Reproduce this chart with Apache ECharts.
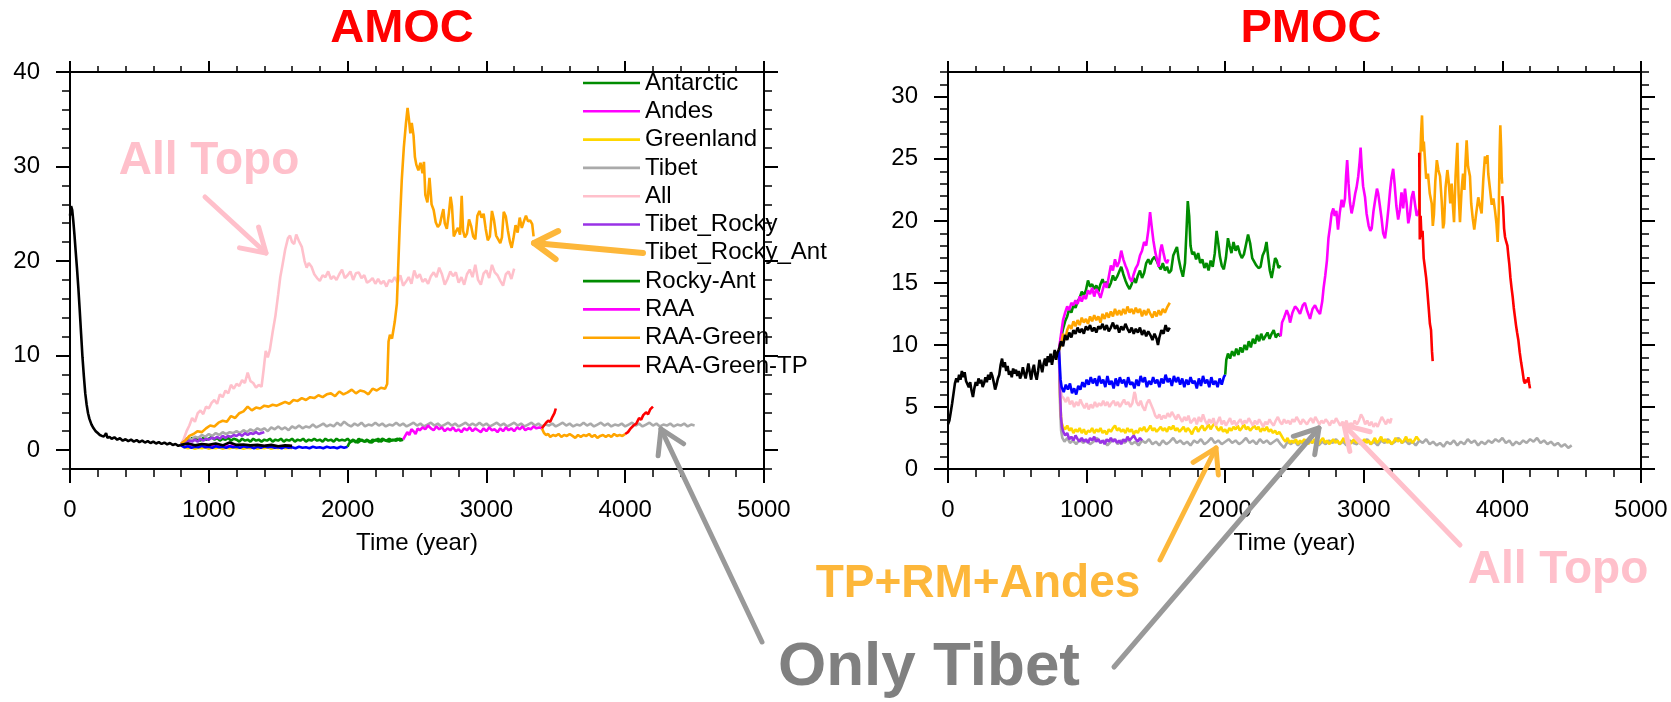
<!DOCTYPE html>
<html>
<head>
<meta charset="utf-8">
<script src="https://cdn.jsdelivr.net/npm/echarts@6.0.0/dist/echarts.min.js"></script>
<style>
  html, body { margin: 0; padding: 0; background: #fff; }
  #main { width: 1671px; height: 702px; }
</style>
</head>
<body>
<div id="main"></div>
<script>
var FONT = '"Liberation Sans", Arial, Helvetica, sans-serif';

// tick labels
var xTicks = [0, 1000, 2000, 3000, 4000, 5000];
var amocTicks = [0, 10, 20, 30, 40];
var pmocTicks = [0, 5, 10, 15, 20, 25, 30];

var legendNames = ['Antarctic', 'Andes', 'Greenland', 'Tibet', 'All', 'Tibet_Rocky',
    'Tibet_Rocky_Ant', 'Rocky-Ant', 'RAA', 'RAA-Green', 'RAA-Green-TP'];

// ---------- AMOC (Sv) ----------
var amocCtrl = [[0,24.8],[8,25.8],[16,25.4],[24,24.2],[32,22.8],[40,21.2],[50,19.3],[60,17.2],[70,14.8],[80,12.3],[90,9.8],[100,7.8],[110,6.0],[120,4.8],[130,3.9],[140,3.3],[155,2.7],[170,2.3],[185,2.0],[200,1.8],[215,1.6],[230,1.5],[245,1.45],[260,1.8],[270,1.3],[285,1.4],[300,1.2],[320,1.35],[340,1.1],[360,1.25],[380,1.0],[400,1.15],[420,0.95],[440,1.1],[460,0.9],[480,1.05],[500,0.85],[520,1.0],[540,0.8],[560,0.95],[580,0.75],[600,0.9],[620,0.7],[640,0.85],[660,0.65],[680,0.8],[700,0.6],[720,0.75],[740,0.55],[760,0.65],[780,0.45],[800,0.55]];
var amocCtrl2 = [[800,0.55],[850,0.7],[900,0.5],[950,0.65],[1000,0.55],[1050,0.7],[1100,0.5],[1150,0.8],[1200,0.55],[1250,0.6],[1300,0.5],[1350,0.55],[1400,0.45],[1450,0.55],[1500,0.4],[1550,0.5],[1600,0.45]];
var amocAll = [[800,0.6],[820,1.2],[840,2.0],[860,2.6],[880,3.4],[900,3.0],[920,3.9],[940,4.2],[960,3.8],[980,4.6],[1000,4.4],[1020,5.0],[1040,5.3],[1060,4.9],[1080,5.9],[1100,5.6],[1120,6.3],[1140,6.0],[1160,6.9],[1180,6.5],[1200,7.0],[1220,6.8],[1240,7.4],[1260,7.1],[1280,8.2],[1300,7.3],[1320,7.1],[1340,6.6],[1360,6.9],[1380,6.7],[1395,8.5],[1410,10.5],[1425,9.8],[1440,10.6],[1460,12.5],[1480,14.2],[1500,16.5],[1515,18.3],[1530,19.5],[1550,21.2],[1570,22.4],[1585,22.7],[1600,22.0],[1615,21.8],[1630,22.8],[1650,22.1],[1670,21.5],[1690,20.0],[1705,19.3],[1720,19.8],[1740,19.4],[1760,18.6],[1780,18.2],[1800,17.9],[1820,18.5],[1840,18.3],[1860,18.9],[1880,18.1],[1900,18.4],[1920,18.0],[1940,18.6],[1960,19.1],[1980,18.2],[2000,18.5],[2020,18.9],[2040,18.0],[2060,18.7],[2080,18.8],[2100,18.2],[2120,18.5],[2140,17.7],[2160,17.9],[2180,18.2],[2200,17.6],[2220,18.1],[2240,17.6],[2260,17.9],[2280,17.3],[2300,18.0],[2320,17.8],[2340,18.3],[2360,17.7],[2380,18.5],[2400,17.4],[2420,17.8],[2440,18.3],[2460,17.6],[2480,19.0],[2500,18.2],[2520,18.6],[2540,17.8],[2560,18.1],[2580,17.6],[2600,18.4],[2620,18.8],[2640,18.3],[2660,19.3],[2680,18.6],[2700,17.5],[2720,18.1],[2740,18.9],[2760,18.4],[2780,18.8],[2800,17.7],[2820,18.3],[2840,17.5],[2860,18.6],[2880,19.1],[2900,18.3],[2920,19.6],[2940,18.0],[2960,17.5],[2980,18.7],[3000,19.0],[3020,18.2],[3040,19.6],[3060,18.8],[3080,18.5],[3100,17.9],[3120,17.4],[3140,18.6],[3160,18.9],[3180,18.1],[3200,19.2]];
var amocTpRmAndes = [[800,0.7],[830,1.0],[860,1.5],[890,1.7],[920,2.0],[950,1.9],[980,2.3],[1010,2.6],[1040,2.5],[1070,2.9],[1100,3.1],[1130,3.0],[1160,3.6],[1190,3.4],[1220,3.9],[1250,4.1],[1280,4.6],[1310,4.2],[1340,4.5],[1370,4.4],[1400,4.7],[1430,4.6],[1460,4.8],[1490,4.7],[1520,4.9],[1550,5.1],[1580,4.9],[1610,5.3],[1640,5.2],[1670,5.5],[1700,5.3],[1730,5.6],[1760,5.5],[1790,5.8],[1820,5.6],[1850,5.9],[1880,6.0],[1910,5.7],[1940,6.2],[1970,5.9],[2000,6.1],[2030,6.4],[2060,6.0],[2090,6.3],[2120,6.2],[2150,5.9],[2180,6.5],[2210,6.3],[2240,6.6],[2270,6.5],[2285,7.0],[2295,11.5],[2305,12.2],[2320,11.8],[2340,13.6],[2355,15.5],[2365,19.5],[2375,23.5],[2390,28.5],[2405,32.0],[2420,34.5],[2432,36.2],[2442,35.0],[2452,33.5],[2462,34.6],[2475,33.3],[2485,31.0],[2495,30.2],[2510,29.6],[2525,30.4],[2540,29.3],[2550,30.5],[2560,27.0],[2575,26.2],[2590,28.8],[2605,26.0],[2620,25.4],[2635,24.1],[2650,23.6],[2665,23.9],[2680,24.9],[2690,25.5],[2700,24.0],[2715,23.4],[2730,25.1],[2742,26.8],[2752,25.8],[2765,22.6],[2780,23.1],[2795,23.5],[2810,22.8],[2822,26.9],[2832,23.2],[2845,22.5],[2860,22.9],[2875,24.4],[2890,23.7],[2905,22.6],[2920,22.3],[2935,24.8],[2950,25.3],[2965,24.6],[2980,25.0],[2995,23.4],[3010,22.2],[3025,22.6],[3040,25.3],[3055,24.3],[3070,22.7],[3085,22.3],[3100,21.9],[3112,22.5],[3125,25.2],[3140,24.7],[3155,23.2],[3170,22.0],[3182,21.4],[3195,22.4],[3210,23.8],[3225,23.0],[3240,24.6],[3255,23.5],[3270,24.2],[3285,24.8],[3300,24.2],[3315,24.3],[3330,23.9],[3340,22.6]];
var amocTibet = [[800,0.6],[825,1.1],[850,1.3],[875,1.1],[900,1.4],[925,1.3],[950,1.6],[975,1.4],[1000,1.7],[1025,1.5],[1050,1.8],[1075,1.6],[1100,1.9],[1125,1.7],[1150,1.9],[1175,1.8],[1200,2.0],[1225,1.8],[1250,2.1],[1275,1.9],[1300,2.2],[1325,2.0],[1350,2.3],[1375,2.1],[1400,2.3],[1425,2.0],[1450,2.4],[1475,2.2],[1500,2.5],[1525,2.2],[1550,2.4],[1575,2.1],[1600,2.5],[1625,2.3],[1650,2.6],[1675,2.3],[1700,2.5],[1725,2.4],[1750,2.7],[1775,2.4],[1800,2.6],[1825,2.8],[1850,2.5],[1875,2.7],[1900,2.5],[1925,2.9],[1950,2.6],[1975,3.0],[2000,2.7],[2025,2.5],[2050,2.8],[2075,2.6],[2100,2.9],[2125,2.5],[2150,2.7],[2175,2.6],[2200,2.9],[2225,2.6],[2250,2.8],[2275,2.5],[2300,2.7],[2325,2.6],[2350,2.9],[2375,2.6],[2400,2.8],[2425,2.5],[2450,2.7],[2475,2.9],[2500,2.6],[2525,2.8],[2550,2.5],[2575,2.7],[2600,2.9],[2625,2.6],[2650,2.8],[2675,2.5],[2700,2.7],[2725,2.9],[2750,2.6],[2775,2.8],[2800,2.5],[2825,2.7],[2850,2.9],[2875,2.6],[2900,2.8],[2925,2.6],[2950,2.9],[2975,2.6],[3000,2.8],[3025,2.5],[3050,2.7],[3075,2.9],[3100,2.6],[3125,2.8],[3150,2.5],[3175,2.7],[3200,2.9],[3225,2.6],[3250,2.8],[3275,2.5],[3300,2.7],[3325,2.9],[3350,2.6],[3375,2.8],[3400,2.5],[3425,2.7],[3450,2.6],[3475,2.8],[3500,2.5],[3525,2.7],[3550,2.9],[3575,2.6],[3600,2.8],[3625,2.5],[3650,2.7],[3675,2.6],[3700,2.9],[3725,2.6],[3750,2.8],[3775,2.5],[3800,2.7],[3825,2.9],[3850,2.6],[3875,2.8],[3900,2.5],[3925,2.7],[3950,2.6],[3975,2.8],[4000,2.5],[4025,2.7],[4050,2.9],[4075,2.6],[4100,2.8],[4125,2.5],[4150,2.7],[4175,2.9],[4200,2.6],[4225,2.8],[4250,2.5],[4275,2.7],[4300,2.6],[4325,2.8],[4350,2.5],[4375,2.7],[4400,2.6],[4425,2.8],[4450,2.5],[4475,2.7],[4500,2.6]];
var amocAntarctic = [[800,0.6],[820,1.0],[840,1.2],[860,1.0],[880,1.3],[900,1.1],[920,1.2],[940,1.0],[960,1.3],[980,1.1],[1000,1.2],[1020,1.4],[1040,1.1],[1060,1.3],[1080,1.0],[1100,1.2],[1120,1.1],[1140,1.3],[1160,1.0],[1180,1.2],[1200,1.1],[1220,0.9],[1240,1.2],[1260,1.0],[1280,1.1],[1300,0.9],[1320,1.2],[1340,1.0],[1360,1.1],[1380,0.9],[1400,1.1],[1420,1.0],[1440,1.2],[1460,0.9],[1480,1.1],[1500,1.0],[1520,1.2],[1540,0.9],[1560,1.1],[1580,1.0],[1600,1.2],[1620,0.9],[1640,1.1],[1660,1.0],[1680,1.2],[1700,0.9],[1720,1.1],[1740,1.0],[1760,1.2],[1780,1.0],[1800,1.1],[1820,0.9],[1840,1.2],[1860,1.0],[1880,1.1],[1900,0.9],[1920,1.2],[1940,1.0],[1960,1.1],[1980,1.0],[2000,1.2],[2020,0.9],[2040,1.1],[2060,0.8],[2080,1.2],[2100,1.0],[2120,0.9],[2140,1.1],[2160,0.8],[2180,1.1],[2200,1.0],[2220,1.2],[2240,0.9],[2260,1.1],[2280,1.0],[2300,1.2],[2320,1.0],[2340,1.1],[2360,1.2],[2380,1.0],[2400,1.1]];
var amocTibetRocky = [[800,0.6],[820,0.9],[840,0.8],[860,1.0],[880,0.9],[900,1.1],[920,0.9],[940,1.2],[960,1.0],[980,1.2],[1000,1.1],[1020,1.3],[1040,1.2],[1060,1.4],[1080,1.2],[1100,1.5],[1120,1.3],[1140,1.5],[1160,1.4],[1180,1.6],[1200,1.5],[1220,1.7],[1240,1.5],[1260,1.8],[1280,1.6],[1300,1.8],[1320,1.7],[1340,1.9],[1360,1.7],[1380,1.8],[1400,1.9]];
var amocTibetRockyAnt = [[800,0.5],[825,0.3],[850,0.4],[875,0.25],[900,0.35],[925,0.3],[950,0.45],[975,0.3],[1000,0.35],[1025,0.25],[1050,0.4],[1075,0.3],[1100,0.35],[1125,0.25],[1150,0.4],[1175,0.3],[1200,0.35],[1225,0.25],[1250,0.4],[1275,0.3],[1300,0.35],[1325,0.2],[1350,0.35],[1375,0.25],[1400,0.4],[1425,0.3],[1450,0.35],[1475,0.25],[1500,0.3],[1525,0.2],[1550,0.35],[1575,0.25],[1600,0.3],[1625,0.2],[1650,0.35],[1675,0.25],[1700,0.3],[1725,0.2],[1750,0.35],[1775,0.25],[1800,0.3],[1825,0.2],[1850,0.35],[1875,0.25],[1900,0.3],[1925,0.2],[1950,0.35],[1975,0.25],[2000,0.35]];
var amocAndes = [[800,0.5],[825,0.7],[850,0.5],[875,0.6],[900,0.4],[925,0.55],[950,0.45],[975,0.6],[1000,0.4],[1025,0.55],[1050,0.45],[1075,0.5],[1100,0.35],[1125,0.5],[1150,0.4],[1175,0.55],[1200,0.45],[1225,0.5],[1250,0.35],[1275,0.45],[1300,0.4],[1325,0.5],[1350,0.35],[1375,0.45],[1400,0.4],[1425,0.5],[1450,0.35],[1475,0.45],[1500,0.3],[1525,0.4],[1550,0.35],[1575,0.45],[1600,0.35]];
var amocGreenland = [[800,0.5],[825,0.3],[850,0.2],[875,0.3],[900,0.15],[925,0.25],[950,0.2],[975,0.3],[1000,0.15],[1025,0.25],[1050,0.2],[1075,0.3],[1100,0.15],[1125,0.25],[1150,0.2],[1175,0.3],[1200,0.2],[1225,0.25],[1250,0.15],[1275,0.25],[1300,0.2],[1325,0.3],[1350,0.15],[1375,0.25],[1400,0.2],[1425,0.3],[1450,0.15],[1475,0.25],[1500,0.2],[1525,0.3],[1550,0.2],[1575,0.25],[1600,0.2]];
var amocRockyAnt = [[2000,0.35],[2010,0.7],[2025,0.9],[2050,1.0],[2075,0.8],[2100,1.1],[2125,0.9],[2150,1.0],[2175,0.8],[2200,1.1],[2225,0.9],[2250,1.2],[2275,1.0],[2300,0.9],[2325,1.1],[2350,1.0],[2375,1.2],[2400,1.1]];
var amocRAA = [[2400,1.1],[2415,1.5],[2430,1.9],[2445,1.6],[2460,2.2],[2475,2.0],[2490,1.7],[2505,2.3],[2520,2.1],[2540,2.4],[2560,2.2],[2580,2.6],[2600,2.3],[2620,2.1],[2640,2.5],[2660,2.2],[2680,2.4],[2700,2.0],[2720,2.3],[2740,2.1],[2760,2.4],[2780,2.0],[2800,2.2],[2820,1.9],[2840,2.3],[2860,2.1],[2880,2.4],[2900,2.0],[2920,2.3],[2940,2.1],[2960,1.9],[2980,2.3],[3000,2.0],[3020,2.4],[3040,2.1],[3060,2.2],[3080,1.9],[3100,2.3],[3120,2.0],[3140,2.4],[3160,2.1],[3180,2.3],[3200,2.0],[3220,2.4],[3240,2.2],[3260,2.5],[3280,2.1],[3300,2.3],[3320,2.2],[3340,2.5],[3360,2.3],[3380,2.4],[3400,2.3]];
var amocRAAGreen = [[3400,2.3],[3415,1.8],[3430,1.6],[3445,1.7],[3460,1.4],[3480,1.6],[3500,1.5],[3520,1.7],[3540,1.4],[3560,1.6],[3580,1.5],[3600,1.7],[3620,1.5],[3640,1.3],[3660,1.6],[3680,1.4],[3700,1.6],[3720,1.5],[3740,1.7],[3760,1.4],[3780,1.6],[3800,1.3],[3820,1.5],[3840,1.6],[3860,1.4],[3880,1.6],[3900,1.4],[3920,1.7],[3940,1.5],[3960,1.6],[3980,1.5],[4000,1.7]];
var amocRAAGreenTP1 = [[3400,2.3],[3415,2.6],[3430,2.9],[3445,3.1],[3460,3.0],[3475,3.5],[3490,3.9],[3500,4.4]];
var amocRAAGreenTP2 = [[4000,1.7],[4020,1.9],[4040,2.3],[4060,2.6],[4080,2.8],[4100,3.4],[4115,3.2],[4130,3.7],[4150,4.0],[4165,3.8],[4180,4.3],[4200,4.6]];

// ---------- PMOC (Sv) ----------
var pmocCtrl = [[0,3.6],[10,3.9],[20,4.6],[30,5.3],[40,6.1],[50,6.9],[60,7.3],[70,7.0],[80,7.6],[90,7.2],[100,7.9],[110,7.4],[120,7.8],[130,7.1],[140,7.0],[150,6.6],[160,7.0],[170,6.3],[180,5.8],[190,6.5],[200,7.0],[210,6.7],[220,7.3],[230,6.9],[240,7.2],[250,6.6],[260,6.9],[270,7.4],[280,7.0],[290,7.6],[300,7.2],[310,7.8],[320,7.5],[330,7.0],[340,6.4],[350,6.8],[360,7.3],[370,7.6],[380,8.4],[390,8.9],[400,8.2],[410,8.6],[420,7.9],[430,8.3],[440,7.6],[450,7.9],[460,7.4],[470,8.1],[480,7.7],[490,8.0],[500,7.5],[510,7.9],[520,7.3],[530,7.6],[540,8.2],[550,7.7],[560,7.3],[570,7.9],[580,8.5],[590,7.8],[600,7.2],[610,8.0],[620,8.4],[630,7.6],[640,7.2],[650,7.9],[660,8.8],[670,8.3],[680,7.8],[690,8.5],[700,8.9],[710,8.3],[720,9.1],[730,8.6],[740,9.3],[750,8.4],[760,9.0],[770,9.6],[780,8.8],[790,9.4],[800,9.6]];
var pmocCtrl2 = [[800,9.6],[815,10.3],[830,9.9],[845,10.8],[860,10.4],[875,11.0],[890,10.6],[905,11.2],[920,10.9],[935,11.4],[950,11.0],[965,11.3],[980,10.9],[995,11.5],[1010,11.2],[1025,11.6],[1040,11.1],[1055,11.4],[1070,11.0],[1085,11.5],[1100,11.3],[1115,11.7],[1130,11.2],[1145,11.6],[1160,11.1],[1175,11.4],[1190,11.8],[1205,11.3],[1220,11.6],[1235,11.0],[1250,11.5],[1265,11.2],[1280,11.7],[1295,11.3],[1310,11.0],[1325,11.4],[1340,10.9],[1355,11.3],[1370,11.0],[1385,11.4],[1400,10.8],[1415,11.2],[1430,10.7],[1445,11.1],[1460,10.8],[1475,10.4],[1490,10.9],[1505,10.5],[1515,10.0],[1525,10.6],[1540,11.2],[1555,10.9],[1570,11.6],[1585,11.1],[1600,11.4]];
var pmocTpRmAndes = [[800,9.6],[815,10.0],[830,10.9],[845,10.4],[860,11.2],[875,11.6],[890,11.3],[905,11.9],[920,11.5],[935,12.0],[950,11.6],[965,12.2],[980,11.8],[995,12.1],[1010,11.7],[1025,12.3],[1040,11.9],[1055,12.4],[1070,12.0],[1085,12.3],[1100,11.8],[1115,12.5],[1130,12.1],[1145,12.6],[1160,12.2],[1175,12.7],[1190,12.3],[1205,12.9],[1220,12.4],[1235,12.8],[1250,12.4],[1265,12.9],[1280,12.5],[1295,13.1],[1310,12.6],[1325,12.9],[1340,12.5],[1355,13.0],[1370,12.6],[1385,12.9],[1400,12.3],[1415,12.8],[1430,12.4],[1445,12.9],[1460,12.5],[1475,12.2],[1490,12.7],[1505,12.3],[1520,12.8],[1535,12.4],[1550,12.9],[1565,12.6],[1580,13.0],[1600,13.4]];
var pmocAndes = [[800,9.6],[815,10.8],[830,12.0],[845,12.6],[860,13.1],[875,12.8],[890,13.4],[905,13.2],[920,13.6],[935,13.3],[950,13.9],[965,13.5],[980,14.0],[995,13.7],[1010,14.4],[1025,14.1],[1040,14.6],[1055,13.9],[1070,14.5],[1085,14.2],[1100,13.8],[1115,14.4],[1130,15.0],[1145,14.6],[1160,15.5],[1175,16.4],[1190,16.0],[1205,16.9],[1220,16.3],[1235,16.7],[1250,17.6],[1265,16.9],[1280,16.4],[1295,16.0],[1310,15.4],[1325,15.1],[1340,15.7],[1355,16.2],[1370,16.5],[1385,17.2],[1400,17.6],[1415,18.3],[1430,18.0],[1445,19.2],[1458,20.7],[1470,19.5],[1482,18.4],[1495,17.5],[1508,16.9],[1520,16.3],[1532,17.6],[1542,18.1],[1555,17.4],[1567,16.8],[1580,16.6],[1590,16.9]];
var pmocAntarctic = [[800,9.6],[815,10.5],[830,11.3],[845,11.9],[860,12.3],[875,12.9],[890,12.6],[905,13.2],[920,13.0],[935,13.5],[950,13.8],[965,14.3],[980,14.0],[995,14.4],[1010,15.2],[1025,14.7],[1040,14.9],[1055,14.5],[1070,14.8],[1085,14.3],[1100,14.9],[1115,15.3],[1130,14.8],[1145,15.1],[1160,14.6],[1175,15.0],[1190,15.6],[1205,15.2],[1220,15.5],[1235,15.9],[1250,16.3],[1265,15.7],[1280,15.2],[1295,14.8],[1310,14.5],[1325,14.9],[1340,15.4],[1355,15.0],[1370,15.6],[1385,16.0],[1400,15.4],[1415,15.8],[1430,16.6],[1445,16.9],[1460,16.5],[1475,16.9],[1490,17.1],[1505,16.8],[1520,16.4],[1535,16.1],[1550,16.6],[1565,16.0],[1580,16.3],[1595,15.8],[1610,16.0],[1625,17.2],[1640,17.6],[1652,17.9],[1665,16.9],[1680,16.1],[1695,15.5],[1710,16.6],[1720,19.0],[1730,21.6],[1740,20.4],[1750,18.0],[1762,17.3],[1775,17.5],[1790,16.9],[1805,17.4],[1820,16.6],[1835,16.9],[1850,16.2],[1865,16.6],[1880,16.0],[1895,16.8],[1910,16.3],[1925,17.4],[1938,19.2],[1950,18.2],[1962,17.1],[1975,16.4],[1990,16.1],[2005,17.0],[2020,18.6],[2032,18.0],[2045,17.4],[2060,18.3],[2075,17.6],[2090,18.0],[2105,17.4],[2120,17.0],[2135,17.3],[2150,18.1],[2165,18.9],[2180,18.2],[2195,17.0],[2210,16.7],[2225,16.4],[2240,16.2],[2255,16.3],[2270,17.2],[2285,17.6],[2298,18.3],[2310,17.1],[2322,16.0],[2335,15.4],[2348,16.2],[2360,17.0],[2372,16.8],[2385,16.2],[2400,16.4]];
var pmocTibetRockyAnt = [[800,9.6],[806,8.5],[812,7.2],[820,6.6],[835,6.2],[850,6.8],[865,6.4],[880,6.9],[895,6.1],[910,6.5],[925,6.0],[940,6.7],[955,6.4],[970,7.0],[985,6.6],[1000,7.2],[1015,6.8],[1030,7.4],[1045,6.9],[1060,7.3],[1075,6.7],[1090,7.5],[1105,6.9],[1120,7.2],[1135,6.6],[1150,7.5],[1165,6.8],[1180,7.1],[1195,6.5],[1210,7.3],[1225,6.7],[1240,7.4],[1255,6.9],[1270,7.2],[1285,6.6],[1300,7.4],[1315,6.8],[1330,7.0],[1345,6.5],[1360,7.2],[1375,6.7],[1390,7.5],[1405,7.0],[1420,7.4],[1435,6.6],[1450,7.1],[1465,6.8],[1480,7.4],[1495,6.9],[1510,7.2],[1525,6.6],[1540,7.3],[1555,6.9],[1570,7.6],[1585,7.0],[1600,7.3],[1615,6.7],[1630,7.5],[1645,7.0],[1660,7.4],[1675,6.8],[1690,7.3],[1705,6.6],[1720,7.2],[1735,6.8],[1750,7.4],[1765,6.9],[1780,7.1],[1795,6.5],[1810,7.3],[1825,6.7],[1840,7.5],[1855,6.9],[1870,7.2],[1885,6.6],[1900,7.4],[1915,6.8],[1930,7.1],[1945,6.6],[1960,7.3],[1975,6.8],[1990,7.4],[2000,7.6]];
var pmocRockyAnt = [[2000,7.6],[2008,8.8],[2020,9.3],[2035,8.9],[2050,9.5],[2065,9.1],[2080,9.7],[2095,9.2],[2110,9.8],[2125,9.4],[2140,10.0],[2155,9.6],[2170,10.3],[2185,9.8],[2200,10.5],[2215,10.1],[2230,10.8],[2245,10.3],[2260,10.9],[2275,10.4],[2290,10.7],[2305,11.0],[2320,10.5],[2335,10.9],[2350,11.2],[2365,10.6],[2380,10.9],[2400,10.7]];
var pmocRAA = [[2400,10.7],[2410,11.8],[2425,12.2],[2444,12.8],[2458,12.4],[2468,11.8],[2485,12.6],[2504,13.1],[2520,12.9],[2540,12.5],[2560,13.2],[2575,13.4],[2590,12.8],[2612,12.1],[2630,12.9],[2648,13.2],[2665,12.8],[2684,12.5],[2700,13.5],[2710,14.6],[2722,15.6],[2734,16.8],[2745,18.6],[2756,19.5],[2768,20.6],[2780,21.0],[2790,20.4],[2802,20.8],[2814,19.3],[2826,20.6],[2840,21.7],[2852,21.1],[2864,21.8],[2872,23.6],[2880,24.9],[2890,23.0],[2900,21.5],[2912,20.6],[2925,21.3],[2938,22.2],[2948,22.7],[2960,23.6],[2970,24.8],[2977,25.9],[2985,24.3],[2995,22.8],[3009,21.9],[3020,20.6],[3035,19.6],[3047,19.2],[3057,19.4],[3070,20.8],[3085,21.9],[3095,22.6],[3104,22.2],[3115,21.3],[3128,20.2],[3140,19.0],[3153,18.6],[3165,19.6],[3178,21.0],[3190,22.5],[3200,23.5],[3212,24.2],[3222,23.0],[3235,21.2],[3248,20.1],[3260,20.9],[3272,22.3],[3284,21.0],[3297,22.6],[3309,21.4],[3321,19.8],[3333,20.5],[3345,21.9],[3357,22.4],[3370,21.3],[3382,20.4],[3393,20.6],[3400,21.0]];
var pmocRAAGreen = [[3400,21.0],[3406,24.6],[3413,27.0],[3420,28.5],[3428,25.6],[3433,26.4],[3440,25.2],[3450,23.4],[3463,23.8],[3476,22.2],[3490,21.4],[3498,19.6],[3506,20.5],[3516,23.2],[3527,24.9],[3538,24.1],[3550,23.6],[3562,21.6],[3572,19.4],[3579,19.8],[3590,22.7],[3603,24.1],[3612,23.2],[3624,21.4],[3634,23.0],[3643,21.2],[3651,19.9],[3662,23.6],[3675,26.3],[3684,22.2],[3694,19.9],[3705,22.4],[3716,23.8],[3726,22.5],[3734,24.8],[3742,26.5],[3752,24.4],[3766,23.6],[3775,21.4],[3786,20.2],[3797,19.3],[3810,20.5],[3826,21.9],[3838,21.2],[3850,20.6],[3862,23.3],[3874,25.2],[3884,24.6],[3892,25.3],[3898,23.8],[3910,22.6],[3923,21.3],[3935,21.8],[3946,20.9],[3957,19.8],[3966,18.3],[3974,20.8],[3980,25.5],[3985,27.7],[3991,25.8],[3995,23.6],[3999,23.0]];
var pmocRAAGreenTP1 = [[3400,25.5],[3404,18.5],[3410,20.4],[3416,18.7],[3424,19.2],[3432,17.0],[3440,16.3],[3450,15.4],[3458,14.4],[3468,13.0],[3477,11.7],[3485,11.2],[3492,9.5],[3497,8.7]];
var pmocRAAGreenTP2 = [[3999,22.0],[4005,21.2],[4012,19.4],[4019,18.7],[4028,18.3],[4036,18.0],[4043,17.2],[4050,16.5],[4058,15.4],[4066,14.6],[4074,13.9],[4082,13.0],[4090,12.3],[4098,11.6],[4106,11.0],[4115,10.4],[4125,9.4],[4135,8.6],[4145,7.9],[4155,7.1],[4163,6.9],[4172,7.2],[4180,7.0],[4187,7.4],[4193,6.9],[4199,6.5]];
var pmocAll = [[800,9.6],[805,8.2],[812,6.6],[820,5.9],[835,5.7],[850,5.4],[865,5.8],[880,5.2],[895,5.5],[910,5.0],[925,5.4],[940,5.1],[955,5.6],[970,5.2],[985,4.9],[1000,5.3],[1015,4.8],[1030,5.2],[1045,4.9],[1060,5.4],[1075,5.0],[1090,5.3],[1105,5.1],[1120,5.5],[1135,5.1],[1150,5.4],[1165,5.0],[1180,5.3],[1195,5.5],[1210,5.1],[1225,5.4],[1240,5.0],[1255,5.3],[1270,5.6],[1285,5.2],[1300,5.4],[1315,5.0],[1330,5.3],[1345,6.2],[1352,6.0],[1360,5.4],[1375,5.1],[1390,5.5],[1405,5.0],[1420,4.7],[1435,5.3],[1450,5.6],[1465,5.2],[1480,4.8],[1495,4.3],[1510,4.1],[1525,4.4],[1540,4.0],[1555,4.3],[1570,4.1],[1585,4.5],[1600,4.2],[1615,4.6],[1630,4.3],[1645,4.0],[1660,4.4],[1675,4.1],[1690,3.8],[1705,4.2],[1720,3.9],[1735,4.3],[1750,3.7],[1765,3.9],[1780,4.1],[1795,3.6],[1810,4.2],[1825,3.8],[1840,4.4],[1855,3.9],[1870,3.6],[1885,4.0],[1900,3.7],[1915,4.1],[1930,3.5],[1945,3.8],[1960,4.2],[1975,3.6],[1990,3.9],[2005,3.5],[2020,3.8],[2035,4.1],[2050,3.6],[2065,3.9],[2080,3.5],[2095,3.8],[2110,4.0],[2125,3.6],[2140,3.9],[2155,3.7],[2170,4.1],[2185,3.8],[2200,3.5],[2215,3.9],[2230,3.6],[2245,4.0],[2260,3.7],[2275,3.4],[2290,3.8],[2305,3.6],[2320,4.0],[2335,3.7],[2350,3.5],[2365,3.9],[2380,4.2],[2395,3.8],[2410,3.6],[2425,4.0],[2440,3.7],[2455,3.9],[2470,3.6],[2485,4.0],[2500,3.8],[2515,4.2],[2530,3.9],[2545,3.6],[2560,4.0],[2575,3.8],[2590,3.6],[2605,3.9],[2620,4.1],[2635,3.7],[2650,4.2],[2665,3.9],[2680,3.6],[2695,3.9],[2710,3.7],[2725,4.0],[2740,3.8],[2755,3.5],[2770,3.9],[2785,3.7],[2800,4.1],[2815,3.8],[2830,3.5],[2845,3.8],[2860,3.6],[2875,3.9],[2890,3.4],[2905,3.7],[2920,3.5],[2935,3.9],[2950,3.6],[2965,3.9],[2980,4.4],[2995,4.1],[3010,3.6],[3025,3.9],[3040,3.5],[3055,3.8],[3070,3.4],[3085,3.7],[3100,3.4],[3115,3.8],[3130,4.2],[3145,3.9],[3160,3.6],[3175,4.0],[3190,3.7],[3200,4.1]];
var pmocGreenland = [[800,9.6],[805,7.5],[810,5.2],[818,3.8],[830,3.4],[845,3.2],[860,3.5],[875,3.1],[890,3.3],[905,2.9],[920,3.2],[935,3.0],[950,3.3],[965,2.9],[980,3.2],[995,2.8],[1010,3.1],[1025,3.0],[1040,3.3],[1055,2.9],[1070,3.2],[1085,3.0],[1100,3.3],[1115,2.9],[1130,3.1],[1145,2.8],[1160,3.2],[1175,3.0],[1190,3.3],[1205,3.5],[1220,3.1],[1235,3.3],[1250,3.0],[1265,3.2],[1280,2.9],[1295,3.3],[1310,3.0],[1325,3.2],[1340,2.8],[1355,3.1],[1370,2.9],[1385,3.3],[1400,3.1],[1415,3.4],[1430,3.0],[1445,3.2],[1460,3.5],[1475,3.1],[1490,3.3],[1505,3.0],[1520,3.2],[1535,3.4],[1550,3.1],[1565,3.3],[1580,3.0],[1595,3.4],[1610,3.2],[1625,3.5],[1640,3.1],[1655,3.3],[1670,3.0],[1685,3.2],[1700,3.4],[1715,3.0],[1730,3.3],[1745,3.1],[1760,2.8],[1775,3.2],[1790,3.4],[1805,3.0],[1820,3.3],[1835,3.5],[1850,3.1],[1865,3.3],[1880,3.6],[1895,3.2],[1910,3.5],[1925,3.7],[1940,3.3],[1955,3.1],[1970,3.4],[1985,3.0],[2000,3.2],[2015,2.9],[2030,3.3],[2045,3.1],[2060,3.4],[2075,3.2],[2090,3.5],[2105,3.1],[2120,3.3],[2135,3.6],[2150,3.2],[2165,3.4],[2180,3.1],[2195,3.3],[2210,3.5],[2225,3.2],[2240,3.4],[2255,3.0],[2270,3.3],[2285,3.1],[2300,3.4],[2315,3.0],[2330,3.2],[2345,2.9],[2360,3.1],[2375,2.8],[2390,3.0],[2405,2.7],[2420,2.4],[2435,2.2],[2450,2.5],[2465,2.1],[2480,2.3],[2495,2.1],[2510,2.4],[2525,2.0],[2540,2.3],[2555,2.1],[2570,2.4],[2585,2.2],[2600,2.0],[2615,2.3],[2630,2.1],[2645,2.4],[2660,2.2],[2675,2.0],[2690,2.3],[2705,2.5],[2720,2.1],[2735,2.3],[2750,2.0],[2765,2.2],[2780,2.4],[2795,2.1],[2810,2.3],[2825,2.0],[2840,2.2],[2855,2.5],[2870,2.1],[2885,2.3],[2900,2.0],[2915,2.2],[2930,2.4],[2945,2.1],[2960,2.3],[2975,2.0],[2990,2.2],[3005,2.4],[3020,2.1],[3035,2.3],[3050,2.0],[3065,2.2],[3080,2.5],[3095,2.1],[3110,2.3],[3125,2.6],[3140,2.2],[3155,2.4],[3170,2.1],[3185,2.3],[3200,2.0],[3215,2.2],[3230,2.5],[3245,2.2],[3260,2.4],[3275,2.1],[3290,2.3],[3305,2.6],[3320,2.2],[3335,2.4],[3350,2.1],[3365,2.3],[3380,2.6],[3400,2.3]];
var pmocTibet = [[800,9.6],[805,7.0],[810,4.6],[816,3.1],[825,2.5],[840,2.2],[860,2.5],[880,2.1],[900,2.3],[925,2.0],[950,2.4],[975,2.1],[1000,2.3],[1025,2.0],[1050,2.2],[1075,2.5],[1100,2.1],[1125,2.3],[1150,1.9],[1175,2.2],[1200,2.4],[1225,2.0],[1250,2.3],[1275,2.1],[1300,2.4],[1325,2.0],[1350,2.2],[1375,1.9],[1400,2.3],[1425,2.1],[1450,2.4],[1475,2.0],[1500,2.2],[1525,1.9],[1550,2.3],[1575,2.0],[1600,2.2],[1625,2.5],[1650,2.1],[1675,2.3],[1700,2.0],[1725,2.2],[1750,1.9],[1775,2.3],[1800,2.1],[1825,2.4],[1850,2.0],[1875,2.2],[1900,2.5],[1925,2.1],[1950,2.3],[1975,2.0],[2000,2.2],[2025,2.4],[2050,2.1],[2075,2.3],[2100,2.0],[2125,2.2],[2150,2.5],[2175,2.1],[2200,2.3],[2225,2.0],[2250,2.4],[2275,2.1],[2300,2.3],[2325,2.0],[2350,2.2],[2375,2.4],[2400,2.0],[2425,1.7],[2450,2.2],[2475,2.0],[2500,2.3],[2525,1.9],[2550,2.2],[2575,2.0],[2600,2.4],[2625,2.1],[2650,2.3],[2675,1.9],[2700,2.2],[2725,2.0],[2750,2.3],[2775,2.1],[2800,2.4],[2825,2.0],[2850,2.2],[2875,1.9],[2900,2.3],[2925,2.1],[2950,2.0],[2975,2.3],[3000,2.1],[3025,2.4],[3050,2.0],[3075,2.2],[3100,1.9],[3125,2.3],[3150,2.1],[3175,2.4],[3200,2.0],[3225,2.2],[3250,2.5],[3275,2.1],[3300,2.3],[3325,2.0],[3350,2.2],[3375,1.9],[3400,2.3],[3425,2.1],[3450,2.4],[3475,2.0],[3500,2.2],[3525,1.9],[3550,2.1],[3575,1.8],[3600,2.2],[3625,2.0],[3650,2.3],[3675,1.9],[3700,2.2],[3725,2.0],[3750,2.4],[3775,2.1],[3800,2.3],[3825,1.9],[3850,2.2],[3875,2.0],[3900,2.3],[3925,2.1],[3950,2.4],[3975,2.2],[4000,2.5],[4025,2.1],[4050,2.3],[4075,1.9],[4100,2.2],[4125,2.0],[4150,2.3],[4175,2.1],[4200,2.4],[4225,2.2],[4250,2.5],[4275,2.1],[4300,2.3],[4325,2.0],[4350,2.2],[4375,1.9],[4400,2.1],[4425,1.8],[4450,2.0],[4475,1.7],[4500,1.9]];
var pmocTibetRocky = [[800,9.6],[804,8.0],[809,6.0],[815,4.2],[822,3.4],[832,3.0],[845,2.7],[860,2.9],[875,2.4],[890,2.6],[905,2.3],[920,2.7],[935,2.4],[950,2.2],[965,2.5],[980,2.2],[995,2.4],[1010,2.1],[1025,2.5],[1040,2.3],[1055,2.6],[1070,2.2],[1085,2.4],[1100,2.1],[1115,2.3],[1130,2.0],[1145,2.4],[1160,2.2],[1175,2.5],[1190,2.2],[1205,2.4],[1220,2.1],[1235,2.3],[1250,2.0],[1265,2.4],[1280,2.2],[1295,2.6],[1310,2.3],[1325,2.5],[1340,2.7],[1355,2.4],[1370,2.2],[1385,2.5],[1400,2.3]];

var C = {
    black: '#000000', green: '#008c00', magenta: '#ff00ff', gold: '#ffd700', grey: '#aaaaaa',
    pink: '#ffc0cb', purple: '#9932e6', blue: '#0000ff', orange: '#ffa500', red: '#ff0000'
};

function line(name, color, data, g) {
    return {
        name: name, type: 'line', data: data,
        xAxisIndex: g * 2, yAxisIndex: g * 4,
        symbol: 'none', showSymbol: false, silent: true,
        lineStyle: { color: color, width: 2.6 },
        itemStyle: { color: color },
        animation: false
    };
}

var series = [
    // legend order first so legend colours come from these
    line('Antarctic', C.green, amocAntarctic, 0),
    line('Andes', C.magenta, amocAndes, 0),
    line('Greenland', C.gold, amocGreenland, 0),
    line('Tibet', C.grey, amocTibet, 0),
    line('All', C.pink, amocAll, 0),
    line('Tibet_Rocky', C.purple, amocTibetRocky, 0),
    line('Tibet_Rocky_Ant', C.blue, amocTibetRockyAnt, 0),
    line('Rocky-Ant', C.green, amocRockyAnt, 0),
    line('RAA', C.magenta, amocRAA, 0),
    line('RAA-Green', C.orange, amocRAAGreen, 0),
    line('RAA-Green-TP', C.red, amocRAAGreenTP1, 0),
    line('RAA-Green-TP', C.red, amocRAAGreenTP2, 0),
    line('TP+RM+Andes', C.orange, amocTpRmAndes, 0),
    line('Control', C.black, amocCtrl, 0),
    line('Control', C.black, amocCtrl2, 0),

    line('Tibet', C.grey, pmocTibet, 1),
    line('Greenland', C.gold, pmocGreenland, 1),
    line('All', C.pink, pmocAll, 1),
    line('Tibet_Rocky', C.purple, pmocTibetRocky, 1),
    line('Tibet_Rocky_Ant', C.blue, pmocTibetRockyAnt, 1),
    line('Antarctic', C.green, pmocAntarctic, 1),
    line('Andes', C.magenta, pmocAndes, 1),
    line('TP+RM+Andes', C.orange, pmocTpRmAndes, 1),
    line('Control', C.black, pmocCtrl, 1),
    line('Control', C.black, pmocCtrl2, 1),
    line('Rocky-Ant', C.green, pmocRockyAnt, 1),
    line('RAA', C.magenta, pmocRAA, 1),
    line('RAA-Green', C.orange, pmocRAAGreen, 1),
    line('RAA-Green-TP', C.red, pmocRAAGreenTP1, 1),
    line('RAA-Green-TP', C.red, pmocRAAGreenTP2, 1)
];

var black = { color: '#000', width: 2 };
var labelStyle = { fontSize: 24, color: '#000', fontFamily: FONT, formatter: function(v) { return String(v); } };

function xAxes(g) {
    return [{
        gridIndex: g, type: 'value', position: 'bottom', min: 0, max: 5000, interval: 1000,
        axisLine: { show: true, onZero: false, lineStyle: black },
        axisTick: { show: true, length: 14, lineStyle: black },
        minorTick: { show: true, splitNumber: 5, length: 8, lineStyle: { color: '#000', width: 1.5 } },
        axisLabel: Object.assign({ show: true, margin: 29, customValues: xTicks }, labelStyle),
        splitLine: { show: false }, minorSplitLine: { show: false },
        name: 'Time (year)', nameLocation: 'middle', nameGap: 62,
        nameTextStyle: { fontSize: 24, color: '#000', fontFamily: FONT }
    }, {
        gridIndex: g, type: 'value', position: 'top', min: 0, max: 5000, interval: 1000,
        axisLine: { show: true, onZero: false, lineStyle: black },
        axisTick: { show: true, length: 11, lineStyle: black },
        minorTick: { show: true, splitNumber: 5, length: 6, lineStyle: { color: '#000', width: 1.5 } },
        axisLabel: { show: false }, splitLine: { show: false }
    }];
}

function yAxes(g, min, max, major, minor) {
    var out = [];
    ['left', 'right'].forEach(function(pos) {
        out.push({
            gridIndex: g, type: 'value', position: pos, min: min, max: max,
            axisLine: { show: true, onZero: false, lineStyle: black },
            axisTick: { show: true, customValues: major, length: 14, lineStyle: black },
            axisLabel: pos === 'left' ? Object.assign({ show: true, margin: 30, customValues: major }, labelStyle) : { show: false },
            splitLine: { show: false }
        });
        out.push({
            gridIndex: g, type: 'value', position: pos, min: min, max: max, interval: minor,
            axisLine: { show: false, onZero: false },
            axisTick: { show: true, length: 8, lineStyle: { color: '#000', width: 1.5 } },
            axisLabel: { show: false }, splitLine: { show: false }
        });
    });
    return out;
}

function arrow(x1, y1, x2, y2, color, w) {
    var a = Math.atan2(y1 - y2, x1 - x2), L = 27, h = 0.55;
    w = w || 5;
    return [{
        type: 'line', z: 100, shape: { x1: x1, y1: y1, x2: x2, y2: y2 },
        style: { stroke: color, lineWidth: w, lineCap: 'round' }
    }, {
        type: 'polyline', z: 100,
        shape: { points: [[x2 + L * Math.cos(a + h), y2 + L * Math.sin(a + h)], [x2, y2],
            [x2 + L * Math.cos(a - h), y2 + L * Math.sin(a - h)]] },
        style: { stroke: color, fill: null, lineWidth: w, lineCap: 'round', lineJoin: 'round' }
    }];
}

function label(text, x, y, size, color) {
    return {
        type: 'text', z: 101, x: x, y: y,
        style: { text: text, fill: color, font: 'bold ' + size + 'px ' + FONT, align: 'center', verticalAlign: 'middle' }
    };
}

// the Tibet_Rocky_Ant legend line sits under the annotation arrow
var legendData = legendNames.map(function(n) {
    return n === 'Tibet_Rocky_Ant' ? { name: n, itemStyle: { opacity: 0 } } : { name: n };
});

var orangeA = '#fdb73a', greyA = '#999999', pinkA = '#ffc0cb';
var graphics = [
    label('AMOC', 402, 29, 47, '#ff0000'),
    label('PMOC', 1311, 29, 47, '#ff0000'),
    label('All Topo', 209, 161, 46, pinkA),
    label('All Topo', 1558, 570, 46, pinkA),
    label('TP+RM+Andes', 978, 584, 46, orangeA),
    label('Only Tibet', 929, 668, 62, '#808080')
].concat(
    arrow(205, 197, 266, 253, pinkA),
    arrow(643, 253, 534, 243, orangeA, 6),
    arrow(762, 642, 661, 429, greyA),
    arrow(1114, 667, 1319, 428, greyA),
    arrow(1160, 560, 1216, 448, orangeA),
    arrow(1460, 545, 1344, 425, pinkA)
);

var chart = echarts.init(document.getElementById('main'), null, { renderer: 'canvas' });
chart.setOption({
    backgroundColor: '#fff',
    animation: false,
    grid: [
        { left: 70, top: 72, width: 694, height: 397, containLabel: false, outerBoundsMode: 'none' },
        { left: 948, top: 72, width: 693, height: 397, containLabel: false, outerBoundsMode: 'none' }
    ],
    legend: {
        orient: 'vertical', left: 583, top: 71, padding: 0,
        icon: 'rect', itemWidth: 57, itemHeight: 2.6, itemGap: 4.3,
        selectedMode: false,
        data: legendData,
        textStyle: { fontSize: 24, color: '#000', fontFamily: FONT }
    },
    xAxis: xAxes(0).concat(xAxes(1)),
    yAxis: yAxes(0, -2, 40, amocTicks, 2).concat(yAxes(1, 0, 32, pmocTicks, 1)),
    series: series,
    graphic: graphics
});
</script>
</body>
</html>
